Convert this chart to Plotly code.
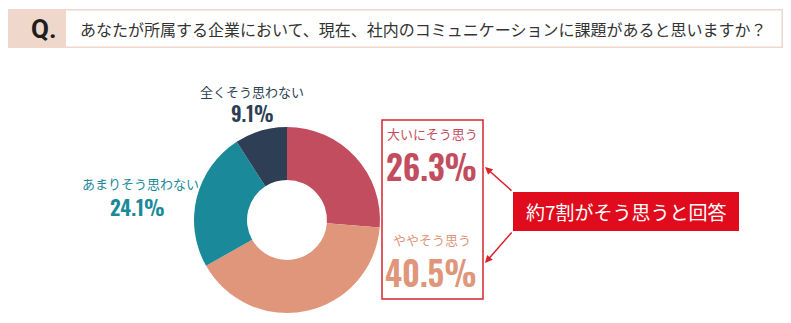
import plotly.graph_objects as go

W, H = 791, 323

categories = ["大いにそう思う", "ややそう思う", "あまりそう思わない", "全くそう思わない"]
values = [26.3, 40.5, 24.1, 9.1]
colors = ["#c24d5f", "#e0967a", "#1a8a9a", "#2e3f55"]
question = "あなたが所属する企業において、現在、社内のコミュニケーションに課題があると思いますか？"
callout = "約7割がそう思うと回答"

JP = "Noto Sans CJK JP, Noto Sans, sans-serif"
NUM = "Oswald, Roboto Condensed, Barlow Condensed, sans-serif"


def px(x):
    return x / W


def py(y):
    return 1 - y / H


fig = go.Figure()
fig.add_trace(go.Pie(
    labels=categories, values=values, hole=0.43, sort=False,
    direction="clockwise", rotation=0,
    marker=dict(colors=colors, line=dict(width=0)),
    textinfo="none", hoverinfo="label+percent", showlegend=False,
    domain=dict(x=[px(194), px(380)], y=[py(313), py(127)]),
))

shapes = []
shapes.append(dict(type="rect", xref="paper", yref="paper", x0=px(8), x1=px(783), y0=py(48), y1=py(9),
                   fillcolor="#efd8cb", line=dict(width=0), layer="below"))
shapes.append(dict(type="rect", xref="paper", yref="paper", x0=px(66), x1=px(781.5), y0=py(46.5), y1=py(10.5),
                   fillcolor="white", line=dict(width=0), layer="below"))
shapes.append(dict(type="rect", xref="paper", yref="paper", x0=px(382), x1=px(483), y0=py(299), y1=py(120),
                   fillcolor="rgba(0,0,0,0)", line=dict(color="#d9232e", width=1.5)))
shapes.append(dict(type="rect", xref="paper", yref="paper", x0=px(513), x1=px(739), y0=py(231), y1=py(192),
                   fillcolor="#e00b1c", line=dict(width=0)))

ann = []


def text(x, y, s, family, size, color, weight=400, anchor="center"):
    ann.append(dict(x=px(x), y=py(y), xref="paper", yref="paper", text=s, showarrow=False,
                    font=dict(family=family, size=size, color=color, weight=weight),
                    xanchor=anchor, yanchor="middle", borderpad=0))


text(43, 29, "Q.", "Roboto, Liberation Sans, sans-serif", 26, "#1e1e1e", 700)
text(79, 29, question, JP, 16, "#333333", 400, "left")

text(252, 92, categories[3], JP, 13, colors[3])
text(252, 113, f"{values[3]}%", NUM, 20, colors[3], 600)
text(140, 183, categories[2], JP, 13, colors[2])
text(137, 206, f"{values[2]}%", NUM, 21, colors[2], 600)

text(432, 133, categories[0], JP, 13, colors[0])
text(431, 166, f"{values[0]}%", NUM, 33, colors[0], 600)
text(432, 239, categories[1], JP, 13, colors[1])
text(431, 272, f"{values[1]}%", NUM, 33, colors[1], 600)

text(626, 211.5, callout, JP, 19, "white")

for tip_y, start_y in [(167, 192), (263, 231)]:
    ann.append(dict(x=px(485), y=py(tip_y), xref="paper", yref="paper",
                    ax=513 - 485, ay=start_y - tip_y, axref="pixel", ayref="pixel",
                    text="", showarrow=True, arrowhead=2, arrowsize=1, arrowwidth=1.5,
                    arrowcolor="#d9232e", standoff=0, startstandoff=0))

fig.update_layout(
    width=W, height=H, margin=dict(l=0, r=0, t=0, b=0),
    paper_bgcolor="white", plot_bgcolor="white",
    shapes=shapes, annotations=ann,
)

fig.write_html("out.html")
